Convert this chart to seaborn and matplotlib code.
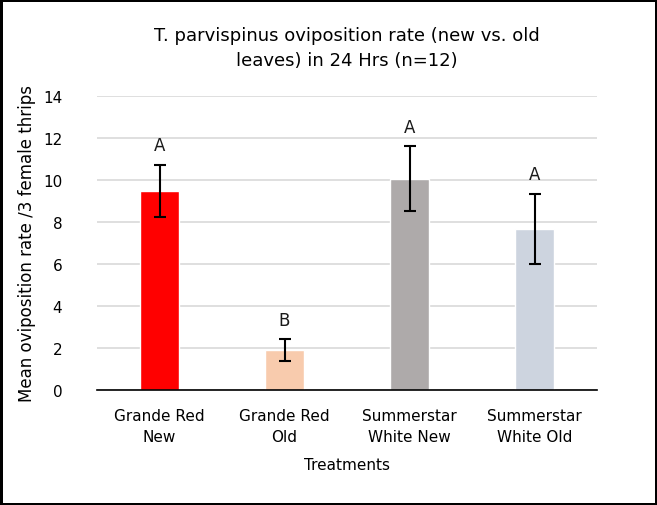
import pandas as pd
import seaborn as sns
import matplotlib.pyplot as plt

# 數據
treatments = ['Grande Red\nNew', 'Grande Red\nOld', 'Summerstar\nWhite New', 'Summerstar\nWhite Old']
means = [9.48, 1.90, 10.05, 7.65]
errors = [1.24, 0.51, 1.55, 1.68]
letters = ['A', 'B', 'A', 'A']
colors = ['#ff0000', '#f8cbad', '#aeaaaa', '#cdd4df']

df = pd.DataFrame({'Treatment': treatments, 'Mean': means, 'SE': errors})

sns.set_theme(style="white")
plt.rcParams['font.family'] = ['DejaVu Sans']

fig = plt.figure(figsize=(6.57, 5.06), dpi=100)
ax = fig.add_axes([0.1477, 0.2273, 0.761, 0.5816])

sns.barplot(data=df, x='Treatment', y='Mean', hue='Treatment', palette=colors,
            width=0.31, saturation=1, legend=False, errorbar=None, ax=ax, zorder=2)

# 誤差線
ax.errorbar(range(len(means)), means, yerr=errors, fmt='none', ecolor='black',
            elinewidth=1.5, capsize=4, capthick=1.5, zorder=3)

# 顯著性字母
for i, (m, e, t) in enumerate(zip(means, errors, letters)):
    ax.text(i, m + e + 0.5, t, ha='center', va='bottom', fontsize=12, color='#1a1a1a')

ax.set_ylim(0, 14)
ax.set_xlim(-0.5, 3.5)
ax.set_yticks(range(0, 15, 2))
ax.grid(axis='y', color='#d9d9d9', linewidth=1.2, zorder=0)
ax.set_axisbelow(True)

for s in ['left', 'right', 'top']:
    ax.spines[s].set_visible(False)
ax.spines['bottom'].set_color('black')
ax.spines['bottom'].set_linewidth(1.2)
ax.spines['bottom'].set_zorder(4)

ax.tick_params(axis='x', which='major', length=0, pad=13, labelsize=11, colors='black')
for lbl in ax.get_xticklabels():
    lbl.set_linespacing(1.5)
ax.set_xticks([-0.5, 0.5, 1.5, 2.5, 3.5], minor=True)
ax.tick_params(axis='x', which='minor', length=6, width=1.2, direction='out', color='black')
ax.tick_params(axis='y', length=0, pad=25, labelsize=11, colors='black')

ax.set_title('T. parvispinus oviposition rate (new vs. old\nleaves) in 24 Hrs (n=12)',
             fontsize=13, pad=22, color='black', linespacing=1.5)
ax.set_xlabel('Treatments', fontsize=11, labelpad=9, color='black')
ax.set_ylabel('Mean oviposition rate /3 female thrips', fontsize=12, labelpad=5, color='black')

# 外框
fig.patch.set_edgecolor('black')
fig.patch.set_linewidth(2.5)

fig.savefig('out.png', dpi=100)
plt.close()
